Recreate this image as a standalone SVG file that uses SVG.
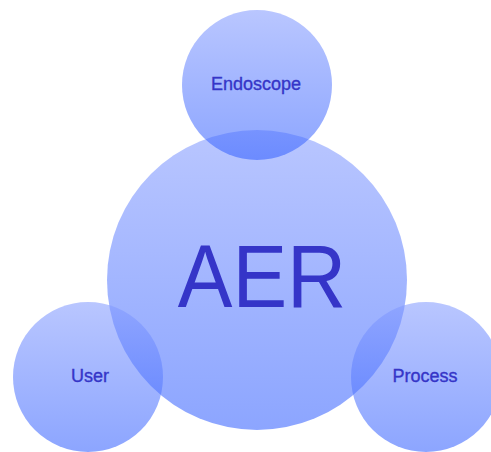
<svg xmlns="http://www.w3.org/2000/svg" width="491" height="452" viewBox="0 0 491 452">
  <defs>
    <linearGradient id="g" x1="0" y1="0" x2="0" y2="1">
      <stop offset="0" stop-color="rgb(132,155,255)"/>
      <stop offset="1" stop-color="rgb(53,97,255)"/>
    </linearGradient>
  </defs>
  <style>
    .c { fill: url(#g); fill-opacity: 0.57; }
    .t { font-family: "Liberation Sans", Arial, sans-serif; fill: #3535C8; text-anchor: middle; }
    .s { font-size: 18px; stroke: #3535C8; stroke-width: 0.35px; }
    .b { font-size: 82px; }
  </style>
  <rect width="491" height="452" fill="#ffffff"/>
  <g id="connectors"/>
  <g id="aer">
    <circle class="c" cx="257" cy="280" r="150"/>
  </g>
  <g id="endoscope">
    <circle class="c" cx="257" cy="85" r="75"/>
  </g>
  <g id="user">
    <circle class="c" cx="88" cy="377" r="75"/>
  </g>
  <g id="process">
    <circle class="c" cx="426" cy="377" r="75"/>
  </g>
  <g id="labels">
    <text class="t b" x="262" y="0" transform="translate(0,307) scale(1,1.09)">AER</text>
    <text class="t s" x="256" y="90">Endoscope</text>
    <text class="t s" x="90" y="382">User</text>
    <text class="t s" x="425" y="382">Process</text>
  </g>
</svg>
